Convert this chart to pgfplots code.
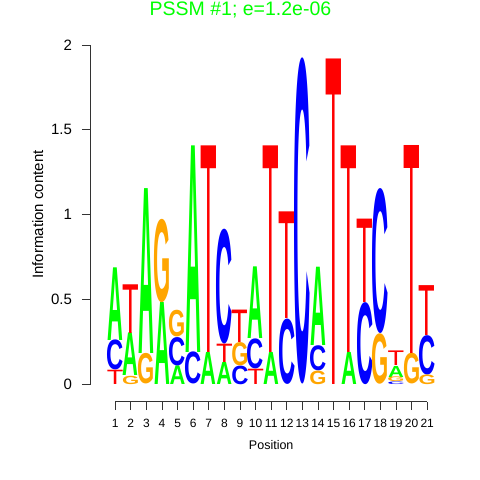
\documentclass[border=0pt]{standalone}
\usepackage{pgfplots}
\pgfplotsset{compat=1.18}
\usepackage{pgfplotstable}
\usepackage{graphicx}
\usepackage{fontspec}
\setmainfont{Liberation Sans}
\definecolor{cA}{HTML}{00FF00}
\definecolor{cC}{HTML}{0000FF}
\definecolor{cG}{HTML}{FFA500}
\definecolor{cT}{HTML}{FF0000}
\definecolor{axc}{HTML}{333333}

% position, bottom of letter, height of letter (bits)
\pgfplotstableread{
x y0 h
1 0.261 0.428
2 0.049 0.251
3 0.180 0.971
4 0.000 0.483
5 0.000 0.110
6 0.189 1.217
7 0.000 0.189
8 0.000 0.130
10 0.267 0.422
11 0.000 0.189
14 0.228 0.461
16 0.000 0.189
19 0.043 0.065
}\tabA
\pgfplotstableread{
x y0 h
1 0.084 0.177
5 0.110 0.167
6 0.000 0.189
8 0.238 0.677
9 0.000 0.110
10 0.090 0.177
12 0.000 0.385
13 0.000 1.917
14 0.080 0.148
17 0.000 0.483
18 0.297 0.854
19 0.000 0.015
21 0.057 0.232
}\tabC
\pgfplotstableread{
x y0 h
2 0.000 0.049
3 0.000 0.180
4 0.483 0.491
5 0.277 0.157
9 0.110 0.137
14 0.000 0.080
18 0.000 0.297
19 0.015 0.028
20 0.000 0.181
21 0.000 0.057
}\tabG
\pgfplotstableread{
x y0 h
1 0.000 0.084
2 0.300 0.287
7 0.189 1.217
8 0.130 0.108
9 0.247 0.191
10 0.000 0.090
11 0.189 1.217
12 0.385 0.628
15 0.000 1.917
16 0.189 1.217
17 0.483 0.491
19 0.108 0.086
20 0.181 1.225
21 0.289 0.294
}\tabT

\newcommand{\glyph}[3]{%
  \pgfmathsetlengthmacro{\gh}{\pgfplotspointmeta*169.7bp}%
  \resizebox*{#1}{\gh}{#2#3}}

\pgfplotsset{
  logo/.style={draw=none, mark=none, point meta=explicit symbolic,
    nodes near coords style={anchor=south, inner sep=0pt, outer sep=0pt, text=#1}},
}

\begin{document}
\begin{tikzpicture}
\useasboundingbox (0,0) rectangle (480bp,480bp);
\begin{axis}[
  at={(90.5bp,78.3bp)}, anchor=south west,
  x=15.6bp, y=169.7bp,
  xmin=-0.583, xmax=22.583, ymin=-0.1025, ymax=2.1025,
  clip=false,
  axis lines*=left,
  x axis line style={shorten <=24.7bp, shorten >=24.7bp},
  y axis line style={shorten <=17.4bp, shorten >=17.4bp},
  axis line style={axc, line width=0.8bp},
  tick style={axc, line width=0.8bp},
  tick align=outside,
  major tick length=8.5bp,
  xtick={1,...,21},
  ytick={0,0.5,1,1.5,2},
  /pgf/number format/assume math mode=true,
  xticklabel style={font=\fontsize{12bp}{14bp}\selectfont, inner sep=0pt, anchor=north, yshift=-9.1bp},
  yticklabel style={font=\fontsize{15bp}{17bp}\selectfont, inner sep=0pt, anchor=east, xshift=-9.8bp},
  title={PSSM \#1; e=1.2e-06},
  title style={at={(axis description cs:0.415,1.0334)}, anchor=base, inner sep=0pt, yshift=-6bp,
    font=\fontsize{19.5bp}{22bp}\selectfont, text=cA},
  xlabel={Position},
  xlabel style={at={(axis description cs:0.5,0)}, anchor=north, yshift=-39bp, inner sep=0pt,
    font=\fontsize{12.5bp}{15bp}\selectfont},
  ylabel={Information content},
  ylabel style={at={(axis description cs:-0.1314,0.5)}, anchor=base, inner sep=0pt,
    font=\fontsize{15bp}{17bp}\selectfont},
]
\addplot[logo=cA, nodes near coords={\glyph{15.8bp}{\bfseries}{A}}] table[x=x,y=y0,meta=h]{\tabA};
\addplot[logo=cC, nodes near coords={\glyph{17.2bp}{\bfseries}{C}}] table[x=x,y=y0,meta=h]{\tabC};
\addplot[logo=cG, nodes near coords={\glyph{17.2bp}{\bfseries}{G}}] table[x=x,y=y0,meta=h]{\tabG};
\addplot[logo=cT, nodes near coords={\glyph{16.6bp}{}{T}}] table[x=x,y=y0,meta=h]{\tabT};
\end{axis}
\end{tikzpicture}
\end{document}
